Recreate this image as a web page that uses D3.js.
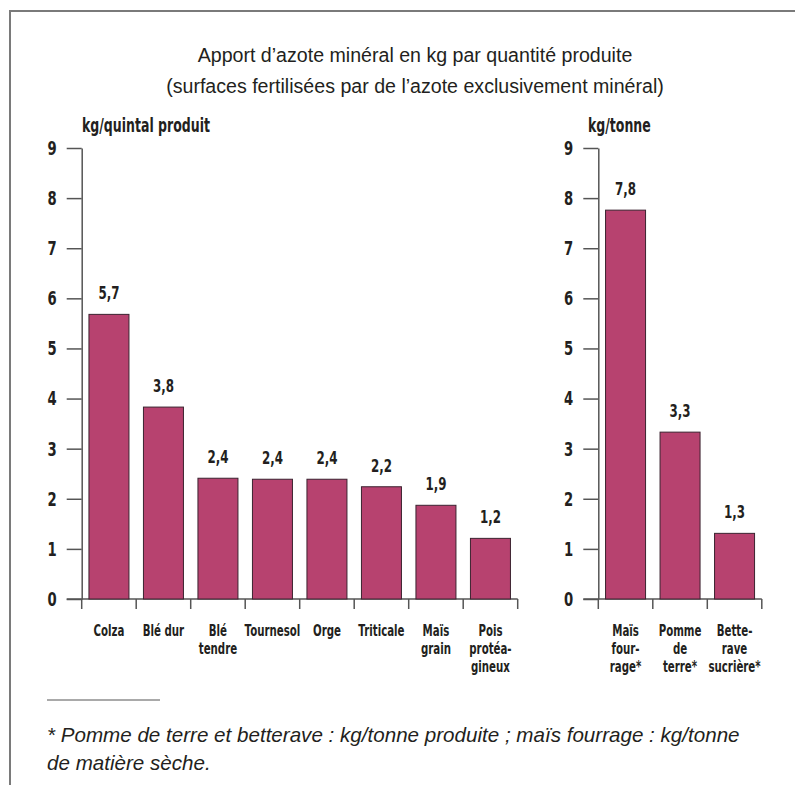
<!DOCTYPE html>
<html><head><meta charset="utf-8">
<script src="https://cdn.jsdelivr.net/npm/d3@7"></script>
<style>
body{margin:0;background:#fff;}
svg{display:block;}
.cond{font-family:"DejaVu Sans",sans-serif;}
</style></head>
<body>
<script>
const leftCategories = [["Colza"],["Blé dur"],["Blé","tendre"],["Tournesol"],["Orge"],["Triticale"],["Maïs","grain"],["Pois","protéa-","gineux"]];
const leftValues = [5.68, 3.83, 2.41, 2.39, 2.39, 2.24, 1.87, 1.21];
const leftLabels = ["5,7","3,8","2,4","2,4","2,4","2,2","1,9","1,2"];
const rightCategories = [["Maïs","four-","rage*"],["Pomme","de","terre*"],["Bette-","rave","sucrière*"]];
const rightValues = [7.76, 3.33, 1.31];
const rightLabels = ["7,8","3,3","1,3"];
const yTicks = [0,1,2,3,4,5,6,7,8,9];
const titleLines = ["Apport d’azote minéral en kg par quantité produite","(surfaces fertilisées par de l’azote exclusivement minéral)"];
const leftUnit = "kg/quintal produit";
const rightUnit = "kg/tonne";
const footnoteLines = ["* Pomme de terre et betterave : kg/tonne produite ; maïs fourrage : kg/tonne","de matière sèche."];

const W = 795, H = 785;
const svg = d3.select("body").append("svg").attr("width", W).attr("height", H);
const barFill = "#b7426f", barStroke = "#3b2330", axisCol = "#555", textCol = "#231f20";
const SX = 0.66;

function condense(sel, ax){
  sel.attr("transform", `translate(${ax},0) scale(${SX},1) translate(${-ax},0)`);
}

// frame
svg.append("path").attr("d", `M10,${H} L10,11 L${W},11`).attr("fill","none").attr("stroke","#7a7a7a").attr("stroke-width",2);

// title
svg.append("g").selectAll("text").data(titleLines).join("text")
  .attr("x", 415).attr("y", (d,i)=>62+i*31).attr("text-anchor","middle")
  .attr("font-family","'Liberation Sans',Arial,sans-serif").attr("font-size",19.6).attr("fill",textCol).text(d=>d);

const y = d3.scaleLinear().domain([0,9]).range([599,148]);

function panel(cats, vals, labels, x0, x1, unit) {
  const g = svg.append("g");
  const x = d3.scaleBand().domain(cats.map(c=>c.join(" "))).range([x0,x1]).paddingInner(0.266).paddingOuter(0.133);
  // y axis
  const ax = g.append("g").attr("transform",`translate(${x0},0)`)
    .call(d3.axisLeft(y).tickValues(yTicks).tickSize(15).tickSizeOuter(0).tickPadding(10).tickFormat(d3.format("d")));
  ax.select(".domain").attr("stroke",axisCol).attr("stroke-width",1.5);
  ax.selectAll(".tick line").attr("stroke",axisCol).attr("stroke-width",1.5);
  ax.selectAll(".tick text").attr("class","cond").attr("font-size",20).attr("font-weight","bold").attr("fill",textCol)
    .each(function(){ condense(d3.select(this), -25); });
  // baseline
  g.append("line").attr("x1",x0-15).attr("x2",x1).attr("y1",y(0)).attr("y2",y(0)).attr("stroke",axisCol).attr("stroke-width",1.5);
  // category separators
  const bounds = d3.range(cats.length+1).map(i=>x0 + i*x.step());
  g.selectAll(".sep").data(bounds).join("line").attr("class","sep")
    .attr("x1",d=>d).attr("x2",d=>d).attr("y1",y(0)).attr("y2",y(0)+10).attr("stroke",axisCol).attr("stroke-width",1.5);
  // bars
  g.selectAll("rect").data(vals).join("rect")
    .attr("x",(d,i)=>x(cats[i].join(" "))).attr("width",x.bandwidth())
    .attr("y",d=>y(d)).attr("height",d=>y(0)-y(d))
    .attr("fill",barFill).attr("stroke",barStroke).attr("stroke-width",1);
  // value labels
  g.selectAll(".val").data(vals).join("text").attr("class","val cond")
    .attr("x",(d,i)=>x(cats[i].join(" "))+x.bandwidth()/2).attr("y",d=>y(d)-15)
    .attr("text-anchor","middle").attr("font-size",18).attr("font-weight","bold").attr("fill",textCol)
    .text((d,i)=>labels[i])
    .each(function(d,i){ condense(d3.select(this), x(cats[i].join(" "))+x.bandwidth()/2); });
  // category labels
  const cl = g.selectAll(".cat").data(cats).join("text").attr("class","cat cond")
    .attr("text-anchor","middle").attr("font-size",15.5).attr("font-weight","bold").attr("fill",textCol);
  cl.each(function(c){
    const cx = x(c.join(" "))+x.bandwidth()/2;
    d3.select(this).selectAll("tspan").data(c).join("tspan")
      .attr("x",cx).attr("y",(d,i)=>636+i*18).text(d=>d);
    condense(d3.select(this), cx);
  });
  // unit
  const ut = g.append("text").attr("class","cond").attr("x", unit.x).attr("y",132)
    .attr("font-size",19).attr("font-weight","bold").attr("fill",textCol).text(unit.t);
  condense(ut, unit.x);
}
panel(leftCategories, leftValues, leftLabels, 81.7, 517.7, {x:82, t:leftUnit});
panel(rightCategories, rightValues, rightLabels, 598.3, 761.8, {x:588, t:rightUnit});

// footnote
svg.append("line").attr("x1",47).attr("x2",160).attr("y1",700).attr("y2",700).attr("stroke","#555").attr("stroke-width",1);
svg.append("g").selectAll("text").data(footnoteLines).join("text")
  .attr("x",47).attr("y",(d,i)=>742+i*28).attr("font-family","'Liberation Sans',Arial,sans-serif")
  .attr("font-style","italic").attr("font-size",20.6).attr("fill",textCol).text(d=>d);
</script>
</body></html>
